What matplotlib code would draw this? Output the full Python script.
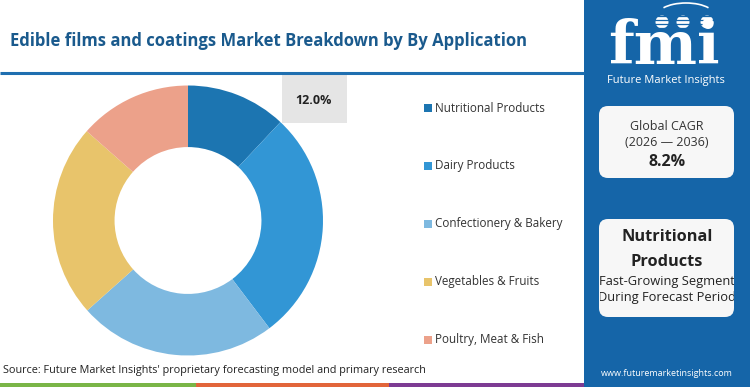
import matplotlib
matplotlib.use("Agg")
import matplotlib.pyplot as plt
from matplotlib.patches import FancyBboxPatch, Rectangle, Circle, Arc
from matplotlib.transforms import Bbox, TransformedBbox

plt.rcParams['font.family'] = ['Open Sans', 'DejaVu Sans']

# data
categories = ['Nutritional Products', 'Dairy Products', 'Confectionery & Bakery',
              'Vegetables & Fruits', 'Poultry, Meat & Fish']
shares = [12.0, 27.7, 23.7, 23.1, 13.5]
colors = ['#1c75b1', '#3296d5', '#7eb9e0', '#e8c46b', '#eca18a']

title = 'Edible films and coatings Market Breakdown by By Application'
source = "Source: Future Market Insights' proprietary forecasting model and primary research"
cagr_lines = ['Global CAGR', '(2026 \u2014 2036)', '8.2%']
seg_lines = ['Nutritional', 'Products', 'Fast-Growing Segment', 'During Forecast Period']

W, H = 750, 387
panel_blue = '#1565a8'
title_blue = '#1a5a8d'

fig = plt.figure(figsize=(W / 100, H / 100), dpi=100)
fig.patch.set_facecolor('white')

# pixel axes for everything but the donut
ax = fig.add_axes([0, 0, 1, 1])
ax.set_xlim(0, W)
ax.set_ylim(H, 0)
ax.axis('off')

# title and rule
ax.text(10, 41, title, fontsize=12.0, fontweight='bold', color=title_blue,
        va='center', ha='left')
ax.plot([0, 584], [73, 73], color='#1f6fb0', lw=2.2, solid_capstyle='butt')

# label box for the first slice
ax.add_patch(Rectangle((282, 75), 65, 48, facecolor='#e5e5e5', edgecolor='none'))
ax.text(314, 100, f'{shares[0]:.1f}%', fontsize=9, fontweight='bold',
        color='#222222', ha='center', va='center')

# legend
leg_y = [108, 166, 224, 282, 340]
for c, lab, y in zip(colors, categories, leg_y):
    ax.add_patch(Rectangle((424, y - 4), 8, 8, facecolor=c, edgecolor='none'))
    ax.text(435, y, lab, fontsize=8.4, color='#333333', va='center', ha='left')

# right panel
ax.add_patch(Rectangle((584, 0), W - 584, H, facecolor=panel_blue, edgecolor='none'))

# logo
ax.text(664, 64, 'fmi', fontsize=43, fontweight='bold', family='DejaVu Serif',
        color='white', ha='center', va='baseline')
for yy in range(16, 68, 4):
    ax.plot([604, 726], [yy, yy], color=panel_blue, lw=0.9)
for gx in (662, 683, 707):
    ax.add_patch(Circle((gx, 22), 6.5, facecolor='white', edgecolor='none'))
ax.add_patch(Arc((686, 16), 58, 26, theta1=200, theta2=340, color='white', lw=1.2))
ax.text(666, 80, 'Future Market Insights', fontsize=8, color='white',
        ha='center', va='center')

# CAGR box
box1 = FancyBboxPatch((599, 106), 135, 72, boxstyle='round,pad=0,rounding_size=9',
                      facecolor='#f7f7f7', edgecolor='none')
ax.add_patch(box1)
ax.text(667, 126, cagr_lines[0], fontsize=9, color='#333333', ha='center', va='center')
ax.text(667, 142, cagr_lines[1], fontsize=9, color='#333333', ha='center', va='center')
ax.text(667, 162, cagr_lines[2], fontsize=11.5, fontweight='bold', color='#222222',
        ha='center', va='center')

# segment box, text clipped at its edges
box2 = FancyBboxPatch((599, 219), 135, 98, boxstyle='round,pad=0,rounding_size=9',
                      facecolor='#f7f7f7', edgecolor='none')
ax.add_patch(box2)
clip = TransformedBbox(Bbox([[600, 219], [734, 317]]), ax.transData)
seg_y = [237, 262, 281, 298]
seg_fs = [11.8, 11.8, 9.3, 9.3]
seg_fw = ['bold', 'bold', 'normal', 'normal']
for s, y, fs, fw in zip(seg_lines, seg_y, seg_fs, seg_fw):
    t = ax.text(667, y, s, fontsize=fs, fontweight=fw, color='#222222',
                ha='center', va='center')
    t.set_clip_box(clip)
    t.set_clip_on(True)

ax.text(667, 374, 'www.futuremarketinsights.com', fontsize=6.5, color='white',
        ha='center', va='center')

# source and coloured footer strip
ax.text(3, 370, source, fontsize=7.8, color='#222222', ha='left', va='center')
for x0, x1, c in [(0, 196, '#7ab547'), (196, 389, '#e2653a'), (389, 584, '#7d3b93')]:
    ax.add_patch(Rectangle((x0, 383), x1 - x0, 4, facecolor=c, edgecolor='none'))

# donut
cx, cy, r = 188, 220.5, 135
pax = fig.add_axes([(cx - r) / W, (H - cy - r) / H, 2 * r / W, 2 * r / H])
pax.pie(shares, colors=colors, startangle=90, counterclock=False,
        wedgeprops=dict(width=0.456, edgecolor='none'), radius=1)
pax.set_xlim(-1, 1)
pax.set_ylim(-1, 1)
pax.axis('off')

fig.savefig('out.png', dpi=100, facecolor='white')
